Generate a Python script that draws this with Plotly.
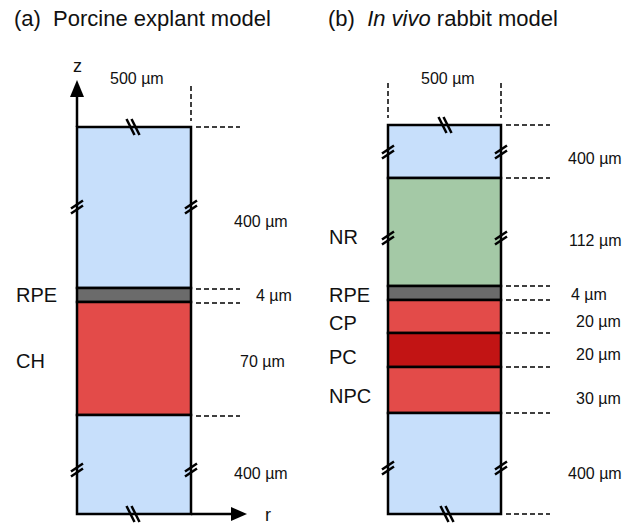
import plotly.graph_objects as go

# ---------------- data ----------------
# (a) Porcine explant model: layers from top to bottom
a_layers = ["fluid_top", "RPE", "CH", "fluid_bottom"]
a_labels = ["", "RPE", "CH", ""]
a_thickness = ["400 µm", "4 µm", "70 µm", "400 µm"]
a_width_label = "500 µm"

# (b) In vivo rabbit model
b_layers = ["fluid_top", "NR", "RPE", "CP", "PC", "NPC", "fluid_bottom"]
b_labels = ["", "NR", "RPE", "CP", "PC", "NPC", ""]
b_thickness = ["400 µm", "112 µm", "4 µm", "20 µm", "20 µm", "30 µm", "400 µm"]
b_width_label = "500 µm"

titles = ["(a)  Porcine explant model", "(b)  <i>In vivo</i> rabbit model"]

# ---------------- drawing config (schematic, not to scale) ----------------
COL = {"fluid_top": "#C7DFFB", "fluid_bottom": "#C7DFFB", "NR": "#A4C9A6",
       "RPE": "#6B6B6B", "CP": "#E34B49", "CH": "#E34B49", "NPC": "#E34B49",
       "PC": "#C21414"}
a_heights = [161, 14, 113, 99]
b_heights = [53, 108, 14, 33, 34, 46, 101]

FONT = "Liberation Sans, Arial, sans-serif"
fig = go.Figure()
shapes, annots = [], []


def line(x0, y0, x1, y1, w=2.5, color="black", dash=None):
    d = dict(type="line", x0=x0, y0=y0, x1=x1, y1=y1, xref="x", yref="y",
             line=dict(color=color, width=w))
    if dash:
        d["line"]["dash"] = dash
    shapes.append(d)


def hdash(y, x0, x1):
    line(x0, y, x1, y, w=1.5, dash="5px,3px")


def vdash(x, y0, y1):
    line(x, y0, x, y1, w=1.5, dash="5px,3px")


def brk_v(x, y):
    # break mark on a vertical edge
    for dy in (-2.5, 2.5):
        line(x - 6, y + 4 + dy, x + 6, y - 4 + dy, w=2.5)


def brk_h(x, y):
    # break mark on a horizontal edge
    for dx in (-2.5, 2.5):
        line(x - 4 + dx, y - 8, x + 4 + dx, y + 8, w=2.5)


def text(x, y, s, size=16, xanchor="left"):
    annots.append(dict(x=x, y=y, xref="x", yref="y", text=s, showarrow=False,
                       xanchor=xanchor, yanchor="middle",
                       font=dict(family=FONT, size=size, color="#111")))


def column(x0, x1, ytop, layers, heights):
    ys = [ytop]
    for h in heights:
        ys.append(ys[-1] + h)
    for i, lay in enumerate(layers):
        shapes.append(dict(type="rect", x0=x0, x1=x1, y0=ys[i], y1=ys[i + 1],
                           xref="x", yref="y", fillcolor=COL[lay],
                           line=dict(color="black", width=2.5), layer="below"))
    return ys


# ---- panel (a)
ax0, ax1, atop = 77, 191, 127
ya = column(ax0, ax1, atop, a_layers, a_heights)
for y in ya[:-1]:
    hdash(y + (1 if y != ya[0] else 0), 196, 240)
vdash(ax1, 86, 121)
# z axis
line(ax0, atop, ax0, 95, w=2.5)
shapes.append(dict(type="path", path=f"M {ax0-7},97 L {ax0+7},97 L {ax0},80 Z",
                   xref="x", yref="y", fillcolor="black", line=dict(width=0)))
# r axis
line(ax1, ya[-1], 233, ya[-1], w=2.5)
shapes.append(dict(type="path",
                   path=f"M 231,{ya[-1]-7} L 231,{ya[-1]+7} L 247,{ya[-1]} Z",
                   xref="x", yref="y", fillcolor="black", line=dict(width=0)))
text(ax0, 66, "z", 18, "center")
text(268, 515, "r", 18, "center")
text(137, 78, a_width_label, 16, "center")
brk_h(133, atop)
brk_h(133, ya[-1])
brk_v(ax0, 207); brk_v(ax1, 207)
brk_v(ax0, 470); brk_v(ax1, 470)
a_lab_y = [221, 295, 361, 473]
a_lab_x = [261, 274, 262, 261]
for i in range(len(a_layers)):
    text(a_lab_x[i], a_lab_y[i], a_thickness[i], 16, "center")
    if a_labels[i]:
        text(14, a_lab_y[i], a_labels[i], 20)

# ---- panel (b)
bx0, bx1, btop = 388, 501, 125
yb = column(bx0, bx1, btop, b_layers, b_heights)
for y in yb:
    hdash(y, 506, 550)
vdash(bx0, 83, 118)
vdash(bx1, 83, 118)
text(448, 78, b_width_label, 16, "center")
brk_h(445, btop)
brk_h(447, yb[-1])
brk_v(bx0, 152); brk_v(bx1, 152)
brk_v(bx0, 238); brk_v(bx1, 238)
brk_v(bx0, 468); brk_v(bx1, 468)
b_lab_y = [158, 240, 294, 321, 354, 398, 473]
b_lab_x = [595, 595, 589, 598, 598, 598, 595]
b_name_y = [None, 237, 295, 323, 357, 396, None]
for i in range(len(b_layers)):
    text(b_lab_x[i], b_lab_y[i], b_thickness[i], 16, "center")
    if b_labels[i]:
        text(327, b_name_y[i], b_labels[i], 20)

# titles
text(12, 18, titles[0], 22)
text(326, 18, titles[1], 22)

fig.update_layout(
    width=632, height=526, margin=dict(l=0, r=0, t=0, b=0),
    paper_bgcolor="white", plot_bgcolor="white",
    xaxis=dict(range=[0, 632], visible=False, fixedrange=True),
    yaxis=dict(range=[526, 0], visible=False, fixedrange=True),
    shapes=shapes, annotations=annots, showlegend=False,
)
fig.write_html("out.html")
